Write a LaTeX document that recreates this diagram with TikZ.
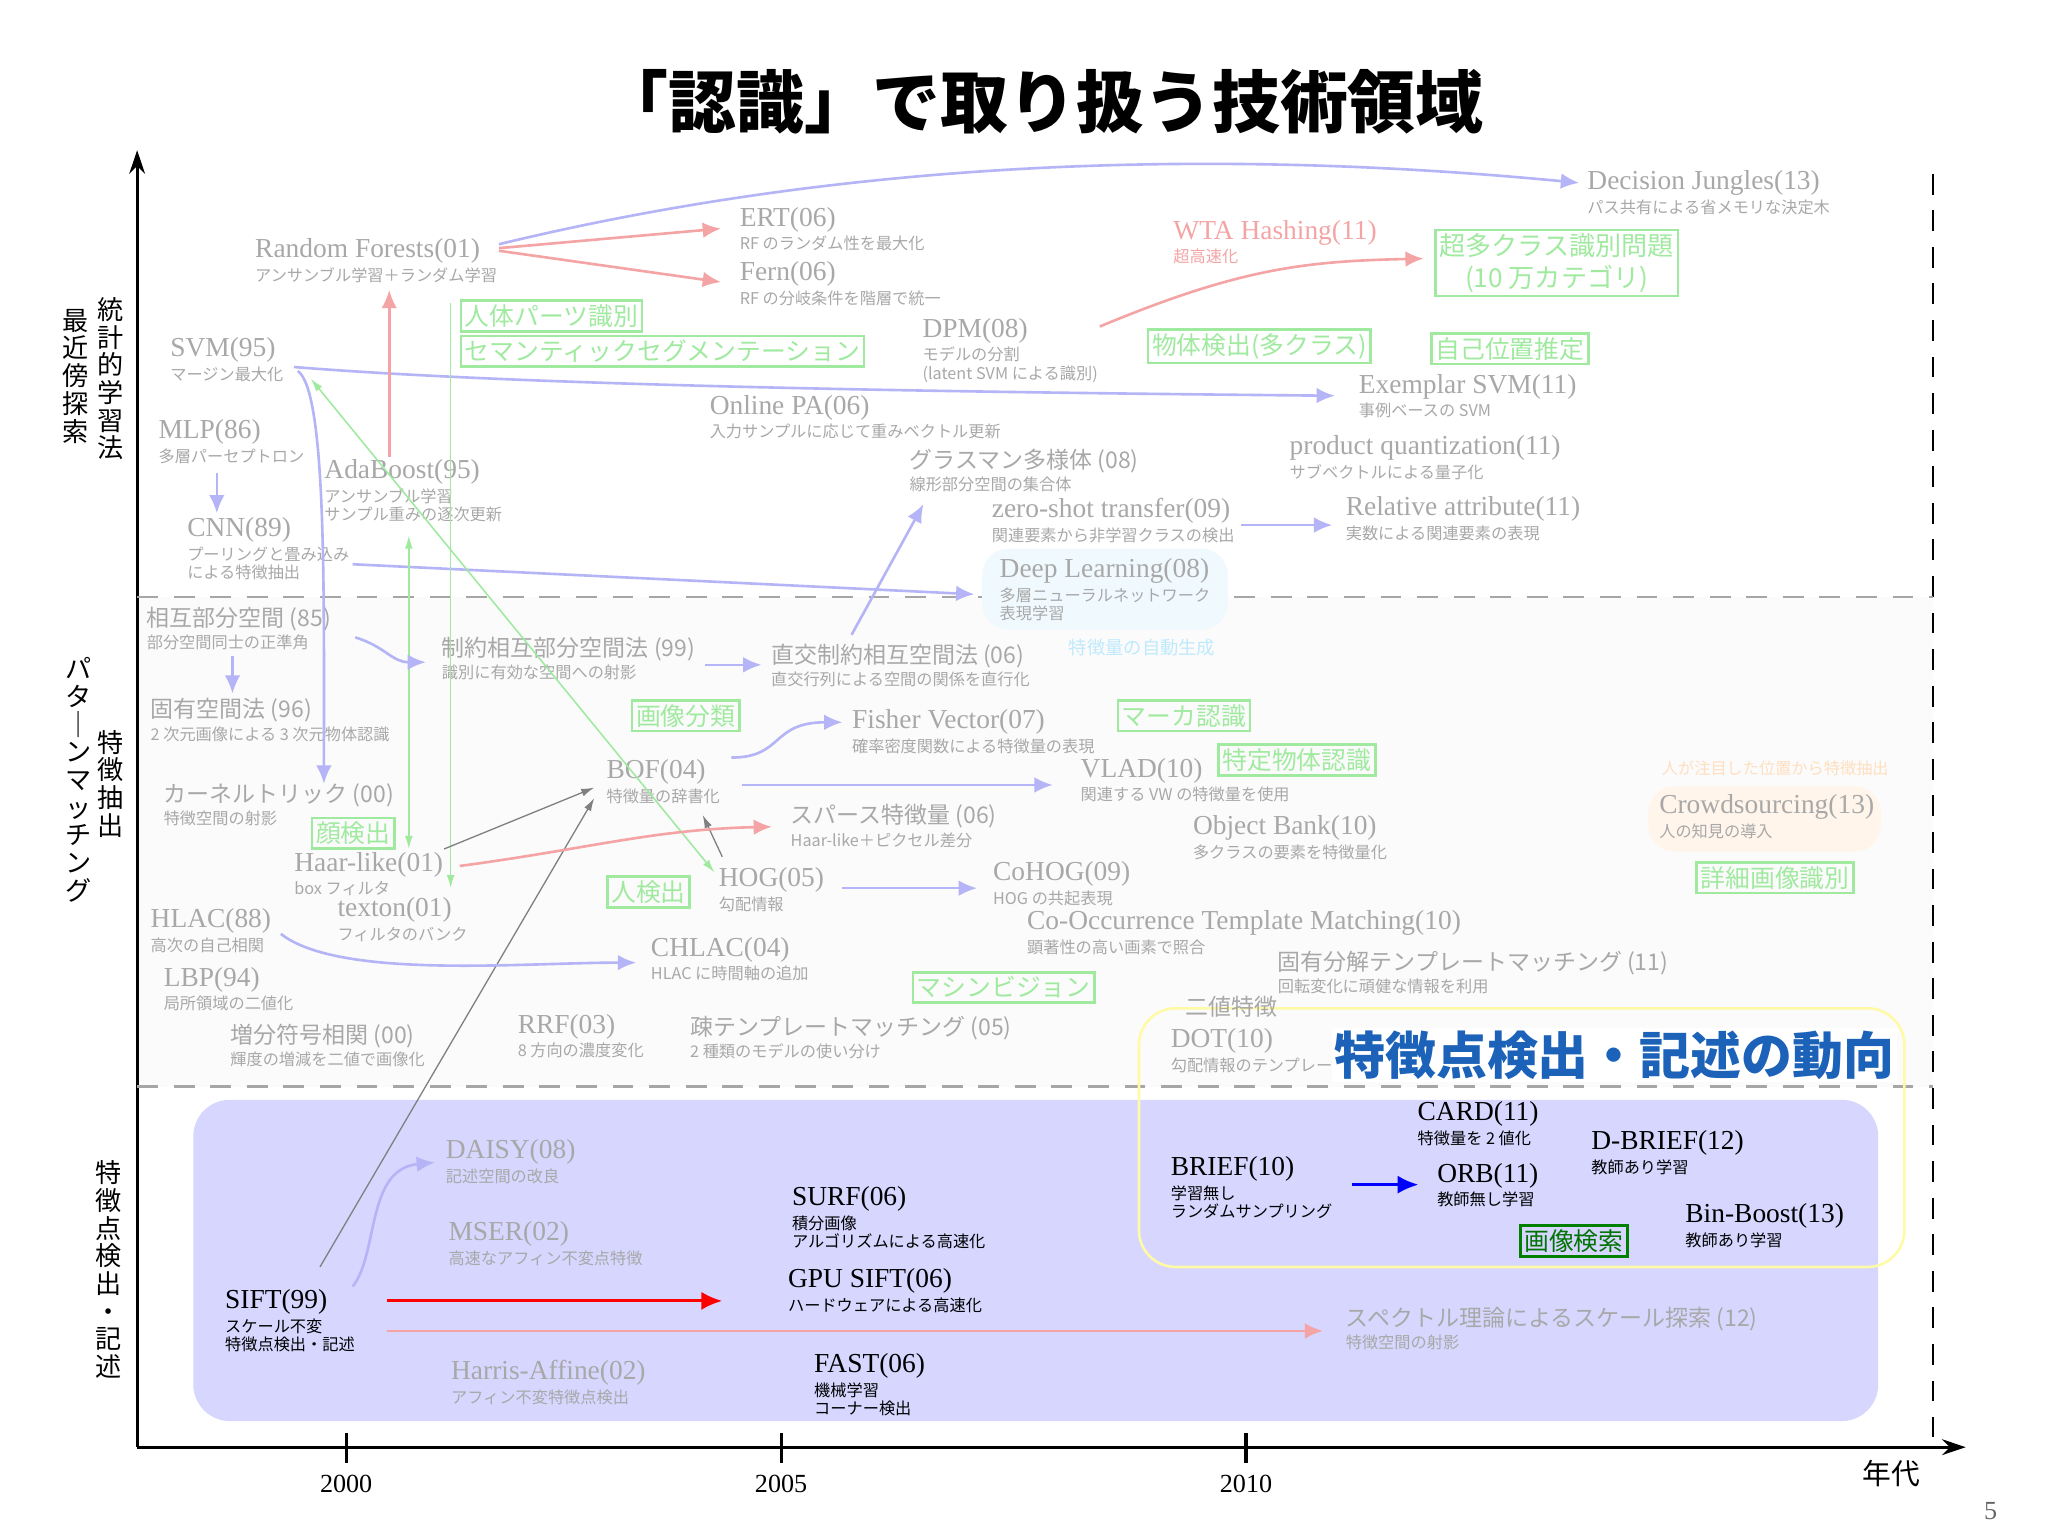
\documentclass[tikz,border=0pt]{standalone}
\usepackage{fontspec}
\setmainfont{Liberation Serif}
\newfontfamily\jp{Noto Sans CJK JP}
\usetikzlibrary{arrows.meta}
\definecolor{gt}{HTML}{A8A8A8}
\definecolor{bl}{HTML}{B4B4F6}
\definecolor{rl}{HTML}{F4A4A4}
\definecolor{gr}{HTML}{A0EAA0}
\definecolor{lav}{HTML}{D6D6FF}
\definecolor{trendblue}{HTML}{1B62B8}
\tikzset{
 ttl/.style={inner sep=0pt,font=\fontsize{10.5}{11}\selectfont},
 jttl/.style={inner sep=0pt,font=\jp\fontsize{8.8}{10}\selectfont},
 sbt/.style={inner sep=0pt,font=\jp\fontsize{6.2}{7}\selectfont},
 fad/.style={text=gt},
 blk/.style={text=black},
 gbox/.style={draw=gr,line width=1pt,text=gr,font=\jp\fontsize{9.5}{11}\selectfont,inner sep=1.5pt,align=center},
 ba/.style={draw=bl,line width=1pt,-{Latex[length=7pt,width=6pt]}},
 ra/.style={draw=rl,line width=1pt,-{Latex[length=7pt,width=6pt]}},
 ga/.style={draw=gr,line width=0.6pt,-{Latex[length=5pt,width=3pt]}},
 gya/.style={draw=gray,line width=0.5pt,-{Latex[length=5pt,width=3pt]}},
 vlab/.style={font=\jp\fontsize{10}{10.6}\selectfont,align=center,inner sep=0pt},
}
\newcommand\itm[6]{%
 \node[ttl,#6,anchor=west] (#1) at (#2,#3) {#4};
 \node[sbt,#6,anchor=north west,align=left] (#1s) at ([yshift=-1.2pt]#1.south west) {#5};}
\newcommand\jitm[6]{%
 \node[jttl,#6,anchor=west] (#1) at (#2,#3) {#4};
 \node[sbt,#6,anchor=north west,align=left] (#1s) at ([yshift=-1.2pt]#1.south west) {#5};}
\begin{document}
\begin{tikzpicture}[x=0.5pt,y=-0.5pt]
\useasboundingbox (0,0) rectangle (1568,1176);
\fill[white] (0,0) rectangle (1568,1176);
\fill[black!1.5] (105,457) rectangle (1480,832);
% title
\node[font=\jp\bfseries\fontsize{26}{27}\selectfont] (title) at (798,78) {「認識」で取り扱う技術領域};
% axes
\coordinate (o) at (105,1108);
\coordinate (ytop) at (105,115);
\coordinate (xend) at (1505,1108);
\draw[line width=1.2pt,-{Stealth[length=9pt,width=6pt]}] (o) -- (ytop);
\draw[line width=1.2pt,-{Stealth[length=9pt,width=6pt]}] (o) -- (xend);
\foreach \x/\l in {265/2000,598/2005,954/2010}{
 \draw[line width=1.2pt] (\x,1097) -- (\x,1120);
 \node[font=\fontsize{10}{11}\selectfont] at (\x,1136) {\l};}
\node[font=\jp\fontsize{11}{12}\selectfont] (nendai) at (1448,1128) {年代};
\node[font=\fontsize{10}{11}\selectfont,text=black!60] (pg) at (1524,1157) {5};
\draw[line width=1pt,dash pattern=on 8pt off 6pt] (1480,133) -- (1480,1100);
\draw[black!35,line width=1pt,dash pattern=on 8pt off 6pt] (105,457) -- (1480,457);
\draw[black!35,line width=1pt,dash pattern=on 8pt off 6pt] (105,832) -- (1480,832);
% vertical labels
\node[vlab] (v1) at (85,290) {統\\計\\的\\学\\習\\法};
\node[vlab] (v2) at (58,288) {最\\近\\傍\\探\\索};
\node[vlab] (v3) at (85,600) {特\\徴\\抽\\出};
\node[vlab] (v4) at (60,597) {パ\\タ\\｜\\ン\\マ\\ッ\\チ\\ン\\グ};
\node[vlab] (v5) at (83,972) {特\\徴\\点\\検\\出\\・\\記\\述};
% background boxes
\fill[lav,rounded corners=14pt] (148,842) rectangle (1438,1088);
\draw[draw=yellow!35,line width=1pt,rounded corners=14pt] (872,772) rectangle (1458,970);
\fill[cyan!6,rounded corners=10pt] (752,420) rectangle (940,482);
\fill[orange!8,rounded corners=10pt] (1262,602) rectangle (1440,652);
% ---------- top region
\itm{dj}{1215}{140}{Decision Jungles(13)}{パス共有による省メモリな決定木}{fad}
\itm{ert}{566}{168}{ERT(06)}{RF のランダム性を最大化}{fad}
\itm{rf}{195}{192}{Random Forests(01)}{アンサンブル学習＋ランダム学習}{fad}
\itm{wta}{898}{178}{WTA Hashing(11)}{超高速化}{text=rl}
\itm{fern}{566}{210}{Fern(06)}{RF の分岐条件を階層で統一}{fad}
\node[gbox,anchor=north west,font=\jp\fontsize{10}{12}\selectfont] (g1) at (1098,175) {超多クラス識別問題\\(10 万カテゴリ)};
\node[gbox,anchor=west] (g2) at (352,242) {人体パーツ識別};
\node[gbox,anchor=west] (g3) at (352,269) {セマンティックセグメンテーション};
\itm{dpm}{706}{253}{DPM(08)}{モデルの分割\\(latent SVM による識別)}{fad}
\node[gbox,anchor=west] (g4) at (878,265) {物体検出(多クラス)};
\node[gbox,anchor=west] (g5) at (1095,267) {自己位置推定};
\itm{svm}{130}{268}{SVM(95)}{マージン最大化}{fad}
\itm{esvm}{1040}{296}{Exemplar SVM(11)}{事例ベースの SVM}{fad}
\itm{opa}{543}{312}{Online PA(06)}{入力サンプルに応じて重みベクトル更新}{fad}
\itm{mlp}{121}{331}{MLP(86)}{多層パーセプトロン}{fad}
\itm{pq}{987}{343}{product quantization(11)}{サブベクトルによる量子化}{fad}
\jitm{gm}{696}{353}{グラスマン多様体 (08)}{線形部分空間の集合体}{fad}
\itm{ada}{248}{361}{AdaBoost(95)}{アンサンブル学習\\サンプル重みの逐次更新}{fad}
\itm{zs}{759}{391}{zero-shot transfer(09)}{関連要素から非学習クラスの検出}{fad}
\itm{ra}{1030}{390}{Relative attribute(11)}{実数による関連要素の表現}{fad}
\itm{cnn}{143}{406}{CNN(89)}{プーリングと畳み込み\\による特徴抽出}{fad}
\itm{dl}{765}{437}{Deep Learning(08)}{多層ニューラルネットワーク\\表現学習}{fad}
% ---------- middle region
\jitm{mss}{112}{474}{相互部分空間 (85)}{部分空間同士の正準角}{fad}
\jitm{cmsm}{338}{497}{制約相互部分空間法 (99)}{識別に有効な空間への射影}{fad}
\jitm{omsm}{590}{502}{直交制約相互空間法 (06)}{直交行列による空間の関係を直行化}{fad}
\node[sbt,text=cyan!25,font=\jp\fontsize{7}{8}\selectfont,anchor=west] (auto) at (818,496) {特徴量の自動生成};
\jitm{eig}{115}{544}{固有空間法 (96)}{2 次元画像による 3 次元物体認識}{fad}
\node[gbox,anchor=west] (g6) at (483,548) {画像分類};
\itm{fv}{652}{553}{Fisher Vector(07)}{確率密度関数による特徴量の表現}{fad}
\node[gbox,anchor=west] (g7) at (855,548) {マーカ認識};
\itm{bof}{464}{591}{BOF(04)}{特徴量の辞書化}{fad}
\itm{vlad}{827}{590}{VLAD(10)}{関連する VW の特徴量を使用}{fad}
\node[gbox,anchor=west] (g8) at (932,582) {特定物体認識};
\node[sbt,text=orange!25,anchor=west] (hum) at (1272,588) {人が注目した位置から特徴抽出};
\itm{crowd}{1270}{618}{Crowdsourcing(13)}{人の知見の導入}{fad}
\jitm{kt}{125}{609}{カーネルトリック (00)}{特徴空間の射影}{fad}
\jitm{sp}{605}{625}{スパース特徴量 (06)}{Haar-like＋ピクセル差分}{fad}
\itm{ob}{913}{634}{Object Bank(10)}{多クラスの要素を特徴量化}{fad}
\node[gbox,anchor=west] (g9) at (238,638) {顔検出};
\node[gbox,anchor=west] (g10) at (1298,672) {詳細画像識別};
\itm{haar}{225}{662}{Haar-like(01)}{box フィルタ}{fad}
\itm{hog}{550}{674}{HOG(05)}{勾配情報}{fad}
\itm{cohog}{760}{669}{CoHOG(09)}{HOG の共起表現}{fad}
\node[gbox,anchor=west] (g11) at (464,683) {人検出};
\itm{texton}{258}{697}{texton(01)}{フィルタのバンク}{fad}
\itm{hlac}{115}{705}{HLAC(88)}{高次の自己相関}{fad}
\itm{cotm}{786}{707}{Co-Occurrence Template Matching(10)}{顕著性の高い画素で照合}{fad}
\itm{chlac}{498}{727}{CHLAC(04)}{HLAC に時間軸の追加}{fad}
\jitm{edtm}{978}{737}{固有分解テンプレートマッチング (11)}{回転変化に頑健な情報を利用}{fad}
\node[gbox,anchor=west] (g12) at (698,756) {マシンビジョン};
\itm{lbp}{125}{750}{LBP(94)}{局所領域の二値化}{fad}
\node[jttl,fad,anchor=west] (bin) at (907,771) {二値特徴};
\jitm{isc}{176}{793}{増分符号相関 (00)}{輝度の増減を二値で画像化}{fad}
\itm{rrf}{396}{786}{RRF(03)}{8 方向の濃度変化}{fad}
\jitm{stm}{528}{787}{疎テンプレートマッチング (05)}{2 種類のモデルの使い分け}{fad}
\itm{dot}{896}{797}{DOT(10)}{勾配情報のテンプレー}{fad}
\node[font=\jp\bfseries\fontsize{19.5}{21}\selectfont,text=trendblue,fill=white,inner sep=1pt] (trend) at (1236,808) {特徴点検出・記述の動向};
% ---------- bottom region
\itm{daisy}{341}{882}{DAISY(08)}{記述空間の改良}{fad}
\itm{mser}{343}{945}{MSER(02)}{高速なアフィン不変点特徴}{fad}
\itm{sift}{172}{997}{SIFT(99)}{スケール不変\\特徴点検出・記述}{blk}
\itm{harris}{345}{1051}{Harris-Affine(02)}{アフィン不変特徴点検出}{fad}
\itm{surf}{606}{918}{SURF(06)}{積分画像\\アルゴリズムによる高速化}{blk}
\itm{gsift}{603}{981}{GPU SIFT(06)}{ハードウェアによる高速化}{blk}
\itm{fast}{623}{1046}{FAST(06)}{機械学習\\コーナー検出}{blk}
\jitm{spec}{1030}{1010}{スペクトル理論によるスケール探索 (12)}{特徴空間の射影}{fad}
\itm{card}{1085}{853}{CARD(11)}{特徴量を 2 値化}{blk}
\itm{brief}{896}{895}{BRIEF(10)}{学習無し\\ランダムサンプリング}{blk}
\itm{orb}{1100}{900}{ORB(11)}{教師無し学習}{blk}
\itm{dbrief}{1218}{875}{D-BRIEF(12)}{教師あり学習}{blk}
\itm{binb}{1290}{931}{Bin-Boost(13)}{教師あり学習}{blk}
\node[gbox,draw=green!50!black,text=green!45!black,anchor=west] (g13) at (1163,950) {画像検索};
% ---------- connectors
\coordinate (rfe) at (382,187);
\draw[ba] (rfe) .. controls (700,110) and (1000,120) .. ([xshift=-3pt]dj.west);
\draw[ra] (382,190) -- (552,175);
\draw[ra] (382,192) -- (552,216);
\draw[ra] (842,250) .. controls (950,205) and (1000,200) .. (1090,198);
\draw[ba] (225,281) .. controls (400,295) and (700,300) .. (1022,303);
\draw[ba] (228,284) .. controls (250,300) and (248,450) .. (248,600);
\draw[ba] (166,362) -- (166,393);
\draw[ba] (270,432) -- (746,455);
\draw[ra] (298,350) -- (298,222);
\draw[ga,{Latex[length=5pt,width=3pt]}-{Latex[length=5pt,width=3pt]}] (238,290) -- (547,668);
\draw[ga,{Latex[length=5pt,width=3pt]}-{Latex[length=5pt,width=3pt]}] (313,410) -- (313,650);
\draw[ga] (345,232) -- (345,680);
\draw[gya] (340,650) -- (455,603);
\draw[gya] (245,970) -- (455,611);
\draw[gya] (553,656) -- (538,624);
\draw[ra] (352,663) .. controls (450,650) and (500,635) .. (591,633);
\draw[ba] (215,715) .. controls (260,750) and (400,737) .. (487,737);
\draw[ba] (272,488) .. controls (295,495) and (300,507) .. (326,507);
\draw[ba] (178,502) -- (178,531);
\draw[ba] (540,509) -- (583,509);
\draw[ba] (652,486) -- (707,386);
\draw[ba] (950,402) -- (1020,402);
\draw[ba] (560,580) .. controls (600,580) and (590,553) .. (645,553);
\draw[ba] (568,601) -- (806,601);
\draw[ba] (645,680) -- (748,680);
\draw[ba] (270,985) .. controls (290,960) and (280,895) .. (333,890);
\draw[draw=red,line width=1.2pt,-{Latex[length=8pt,width=7pt]}] (296,996) -- (553,996);
\draw[ra] (296,1019) -- (1013,1019);
\draw[draw=blue,line width=1.2pt,-{Latex[length=8pt,width=7pt]}] (1035,907) -- (1086,907);
\end{tikzpicture}
\end{document}
